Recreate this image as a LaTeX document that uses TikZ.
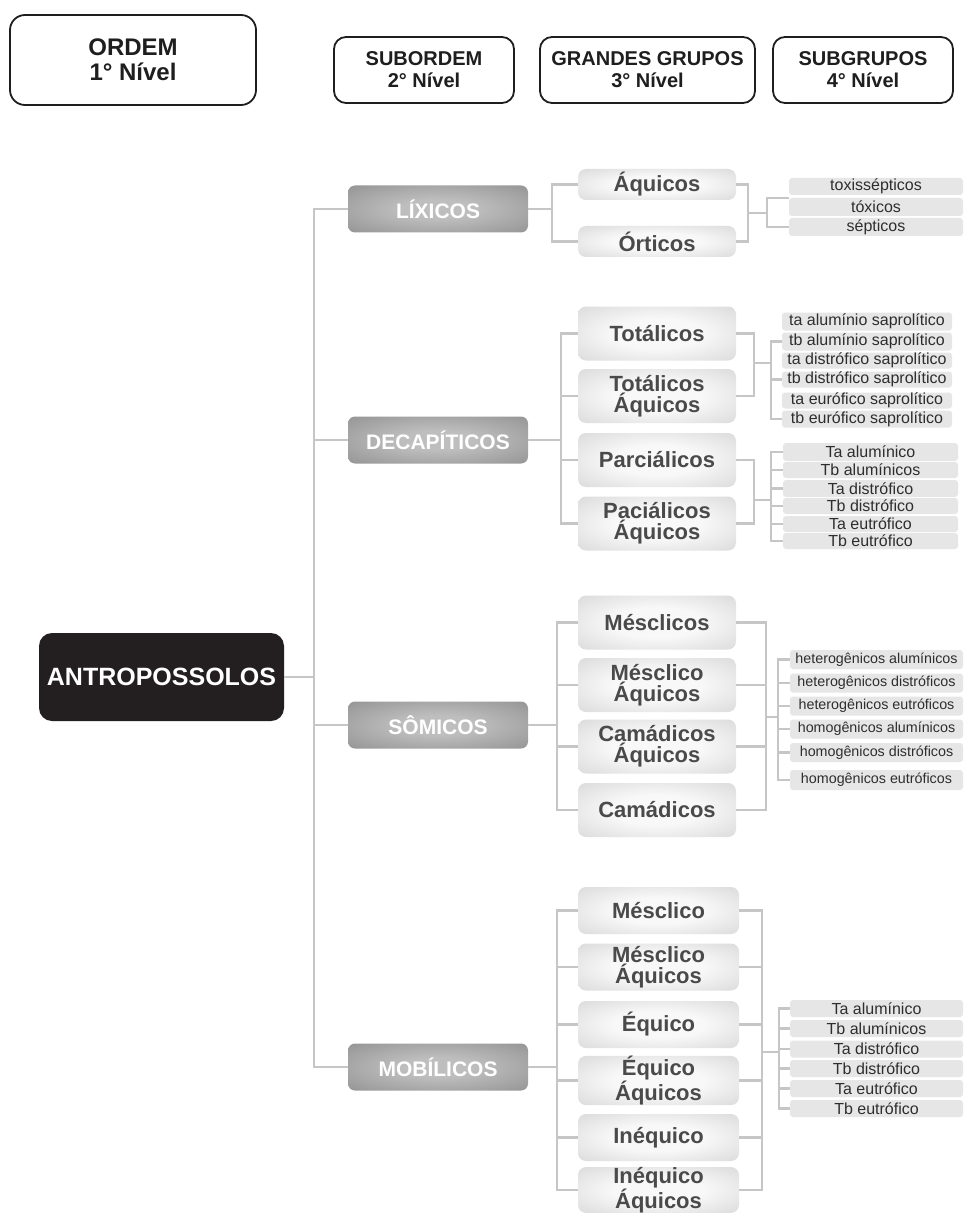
\documentclass[tikz,border=0pt]{standalone}
\usepackage{fontspec}
\setmainfont{Liberation Sans}
\usepackage{tikz}

\definecolor{headline}{HTML}{1E1E1E}
\definecolor{rootfill}{HTML}{231F20}
\definecolor{linegray}{HTML}{C6C6C6}
\definecolor{ordmid}{HTML}{BEBEBE}
\definecolor{ordedge}{HTML}{7E7E7E}
\definecolor{grpmid}{HTML}{F8F8F8}
\definecolor{grpedge}{HTML}{C8C8C8}
\definecolor{grptext}{HTML}{4A4A4A}
\definecolor{subfill}{HTML}{E6E6E6}
\definecolor{subtext}{HTML}{2E2E2E}

\pgfdeclareradialshading{ordglow}{\pgfpointorigin}{color(0bp)=(ordmid); color(10bp)=(ordmid); color(50bp)=(ordedge)}
\pgfdeclareradialshading{grpglow}{\pgfpointorigin}{color(0bp)=(grpmid); color(14bp)=(grpmid); color(50bp)=(grpedge)}

\begin{document}
\begin{tikzpicture}[x=1pt, y=-1pt,
  header/.style={draw=headline, line width=1.8pt, fill=white, rounded corners=12pt,
    align=center, text=headline, font=\bfseries\fontsize{20}{22}\selectfont},
  rootbox/.style={fill=rootfill, rounded corners=13pt, text=white,
    minimum width=245pt, minimum height=88pt, font=\bfseries\fontsize{25}{28}\selectfont},
  ordbox/.style={shade, shading=ordglow, rounded corners=7pt, text=white,
    minimum width=180pt, minimum height=47pt, font=\bfseries\fontsize{21}{24}\selectfont},
  grpbox/.style={shade, shading=grpglow, rounded corners=8pt, text=grptext, align=center,
    minimum width=158pt, minimum height=54pt, inner sep=0pt, font=\bfseries\fontsize{22}{21}\selectfont},
  subbox/.style={fill=subfill, rounded corners=3pt, text=subtext, inner sep=0pt,
    minimum width=173pt, minimum height=18pt, font=\fontsize{16}{18}\selectfont},
  link/.style={draw=linegray, line width=2.2pt}]

\def\colthree{657}
\def\colfour{876.5}

\path[use as bounding box, fill=white] (0,0) rectangle (963,1214);

\node[header, minimum width=246pt, minimum height=90pt, rounded corners=15pt,
  font=\bfseries\fontsize{24}{25}\selectfont] (ordem) at (133,60) {ORDEM\\1° Nível};
\node[header, minimum width=180pt, minimum height=66pt] (subordem) at (424,70) {SUBORDEM\\2° Nível};
\node[header, minimum width=215pt, minimum height=66pt] (grandes) at (647.5,70) {GRANDES GRUPOS\\3° Nível};
\node[header, minimum width=180pt, minimum height=66pt] (subgrupos) at (863,70) {SUBGRUPOS\\4° Nível};

\node[rootbox] (antro) at (161.5,677) {ANTROPOSSOLOS};

\node[ordbox] (lixicos) at (438,209) {LÍXICOS};
\node[ordbox] (decapiticos) at (438,440) {DECAPÍTICOS};
\node[ordbox] (somicos) at (438,725) {SÔMICOS};
\node[ordbox] (mobilicos) at (438,1067) {MOBÍLICOS};

\coordinate (tronco) at (314,677);
\draw[link] (antro.east) -- (tronco);
\draw[link] (lixicos.west) -| (tronco) |- (mobilicos.west);
\draw[link] (decapiticos.west) -- (decapiticos.west -| tronco);
\draw[link] (somicos.west) -- (somicos.west -| tronco);


\node[grpbox, minimum height=31pt] (aquicos) at (\colthree,184.5) {Áquicos};
\node[grpbox, minimum height=31pt] (orticos) at (\colthree,241.5) {Órticos};
\coordinate (lixL) at (552,209);
\coordinate (lixR) at (748,213);
\coordinate (lixB) at (767,213);
\draw[link] (lixicos.east) -- (lixL);
\draw[link] (aquicos.west) -| (lixL) |- (orticos.west);
\draw[link] (aquicos.east) -| (lixR) |- (orticos.east);
\draw[link] (lixR) -- (lixB);

\node[subbox, minimum width=174pt, minimum height=17pt] (toxis) at (876,186.5) {toxissépticos};
\node[subbox, minimum width=174pt] (toxicos) at (876,207) {tóxicos};
\node[subbox, minimum width=174pt] (septicos) at (876,227) {sépticos};
\draw[link] (toxicos.north west) -| (lixB) |- (septicos.west);


\node[grpbox] (totalicos) at (\colthree,333.5) {Totálicos};
\node[grpbox] (totaq) at (\colthree,396) {Totálicos\\Áquicos};
\node[grpbox] (parcialicos) at (\colthree,460) {Parciálicos};
\node[grpbox] (parcaq) at (\colthree,523.5) {Paciálicos\\Áquicos};
\coordinate (decL) at (561,440);
\draw[link] (decapiticos.east) -- (decL);
\draw[link] (totalicos.west) -| (decL) |- (parcaq.west);
\draw[link] (totaq.west) -- (totaq.west -| decL);
\draw[link] (parcialicos.west) -- (parcialicos.west -| decL);

\coordinate (totR) at (754,363);
\coordinate (totB) at (771,363);
\draw[link] (totalicos.east) -| (totR) |- (totaq.east);
\draw[link] (totR) -- (totB);

\node[subbox, minimum width=170pt] (sapA) at (867,321.5) {ta alumínio saprolítico};
\node[subbox, minimum width=170pt] (sapB) at (867,341.5) {tb alumínio saprolítico};
\node[subbox, minimum width=170pt, minimum height=16pt] (sapC) at (867,360.5) {ta distrófico saprolítico};
\node[subbox, minimum width=170pt, minimum height=16pt] (sapD) at (867,379.5) {tb distrófico saprolítico};
\node[subbox, minimum width=170pt, minimum height=16pt] (sapE) at (867,400.5) {ta eurófico saprolítico};
\node[subbox, minimum width=170pt, minimum height=17pt] (sapF) at (867,419) {tb eurófico saprolítico};
\draw[link] (sapB.west) -| (totB) |- (sapF.west);
\draw[link] (sapD.west) -- (sapD.west -| totB);

\coordinate (parR) at (754,500);
\coordinate (parB) at (771,500);
\draw[link] (parcialicos.east) -| (parR) |- (parcaq.east);
\draw[link] (parR) -- (parB);

\node[subbox, minimum width=175pt] (parA) at (870.5,452) {Ta alumínico};
\node[subbox, minimum width=175pt, minimum height=16pt] (parBx) at (870.5,470) {Tb alumínicos};
\node[subbox, minimum width=175pt, minimum height=17pt] (parC) at (870.5,488.5) {Ta distrófico};
\node[subbox, minimum width=175pt, minimum height=16pt] (parD) at (870.5,506) {Tb distrófico};
\node[subbox, minimum width=175pt, minimum height=16pt] (parE) at (870.5,524) {Ta eutrófico};
\node[subbox, minimum width=175pt, minimum height=16pt] (parF) at (870.5,541) {Tb eutrófico};
\draw[link] (parA.west) -| (parB) |- (parF.west);
\draw[link] (parBx.west) -- (parBx.west -| parB);
\draw[link] (parC.west) -- (parC.west -| parB);
\draw[link] (parD.west) -- (parD.west -| parB);
\draw[link] (parE.west) -- (parE.west -| parB);


\node[grpbox] (mesclicos) at (\colthree,622.5) {Mésclicos};
\node[grpbox] (mesaq) at (\colthree,685) {Mésclico\\Áquicos};
\node[grpbox] (camaq) at (\colthree,746.5) {Camádicos\\Áquicos};
\node[grpbox] (camadicos) at (\colthree,810) {Camádicos};
\coordinate (somL) at (557,725);
\draw[link] (somicos.east) -- (somL);
\draw[link] (mesclicos.west) -| (somL) |- (camadicos.west);
\draw[link] (mesaq.west) -- (mesaq.west -| somL);
\draw[link] (camaq.west) -- (camaq.west -| somL);

\coordinate (somR) at (766,717);
\coordinate (somB) at (778,717);
\draw[link] (mesclicos.east) -| (somR) |- (camadicos.east);
\draw[link] (mesaq.east) -- (mesaq.east -| somR);
\draw[link] (camaq.east) -- (camaq.east -| somR);
\draw[link] (somR) -- (somB);

\node[subbox, minimum height=19pt, font=\fontsize{14.3}{16}\selectfont] (hetA) at (\colfour,659.5) {heterogênicos alumínicos};
\node[subbox, minimum height=19pt, font=\fontsize{14.3}{16}\selectfont] (hetD) at (\colfour,683) {heterogênicos distróficos};
\node[subbox, minimum height=19pt, font=\fontsize{14.3}{16}\selectfont] (hetE) at (\colfour,706) {heterogênicos eutróficos};
\node[subbox, minimum height=19pt, font=\fontsize{14.3}{16}\selectfont] (homA) at (\colfour,729) {homogênicos alumínicos};
\node[subbox, minimum height=19pt, font=\fontsize{14.3}{16}\selectfont] (homD) at (\colfour,752.5) {homogênicos distróficos};
\node[subbox, minimum height=20pt, font=\fontsize{14.3}{16}\selectfont] (homE) at (\colfour,780) {homogênicos eutróficos};
\draw[link] (hetA.west) -| (somB) |- (homE.west);
\draw[link] (hetD.west) -- (hetD.west -| somB);
\draw[link] (hetE.west) -- (hetE.west -| somB);
\draw[link] (homA.west) -- (homA.west -| somB);
\draw[link] (homD.west) -- (homD.west -| somB);


\node[grpbox, minimum width=161pt, minimum height=47pt] (mescl) at (658.5,910.5) {Mésclico};
\node[grpbox, minimum width=161pt, minimum height=47pt] (mesaqm) at (658.5,967) {Mésclico\\Áquicos};
\node[grpbox, minimum width=161pt, minimum height=47pt] (equico) at (658.5,1024.5) {Équico};
\node[grpbox, minimum width=161pt, minimum height=47pt] (equaq) at (658.5,1080.5) {Équico\\Áquicos};
\node[grpbox, minimum width=161pt, minimum height=47pt] (inequico) at (658.5,1137.5) {Inéquico};
\node[grpbox, minimum width=161pt, minimum height=44pt,
  font=\bfseries\fontsize{22}{20}\selectfont] (ineqaq) at (658.5,1190) {Inéquico\\Áquicos};
\coordinate (mobL) at (557,1067);
\draw[link] (mobilicos.east) -- (mobL);
\draw[link] (mescl.west) -| (mobL) |- (ineqaq.west);
\draw[link] (mesaqm.west) -- (mesaqm.west -| mobL);
\draw[link] (equico.west) -- (equico.west -| mobL);
\draw[link] (equaq.west) -- (equaq.west -| mobL);
\draw[link] (inequico.west) -- (inequico.west -| mobL);

\coordinate (mobR) at (762,1052);
\coordinate (mobB) at (779,1052);
\draw[link] (mescl.east) -| (mobR) |- (ineqaq.east);
\draw[link] (mesaqm.east) -- (mesaqm.east -| mobR);
\draw[link] (equico.east) -- (equico.east -| mobR);
\draw[link] (equaq.east) -- (equaq.east -| mobR);
\draw[link] (inequico.east) -- (inequico.east -| mobR);
\draw[link] (mobR) -- (mobB);

\node[subbox, minimum height=17pt] (mobA) at (\colfour,1008.5) {Ta alumínico};
\node[subbox, minimum height=17pt] (mobBx) at (\colfour,1028.5) {Tb alumínicos};
\node[subbox, minimum height=17pt] (mobC) at (\colfour,1049) {Ta distrófico};
\node[subbox, minimum height=17pt] (mobD) at (\colfour,1068.5) {Tb distrófico};
\node[subbox, minimum height=17pt] (mobE) at (\colfour,1088.5) {Ta eutrófico};
\node[subbox, minimum height=17pt] (mobF) at (\colfour,1108.5) {Tb eutrófico};
\draw[link] (mobA.west) -| (mobB) |- (mobF.west);
\draw[link] (mobBx.west) -- (mobBx.west -| mobB);
\draw[link] (mobC.west) -- (mobC.west -| mobB);
\draw[link] (mobD.west) -- (mobD.west -| mobB);
\draw[link] (mobE.west) -- (mobE.west -| mobB);

\end{tikzpicture}
\end{document}
